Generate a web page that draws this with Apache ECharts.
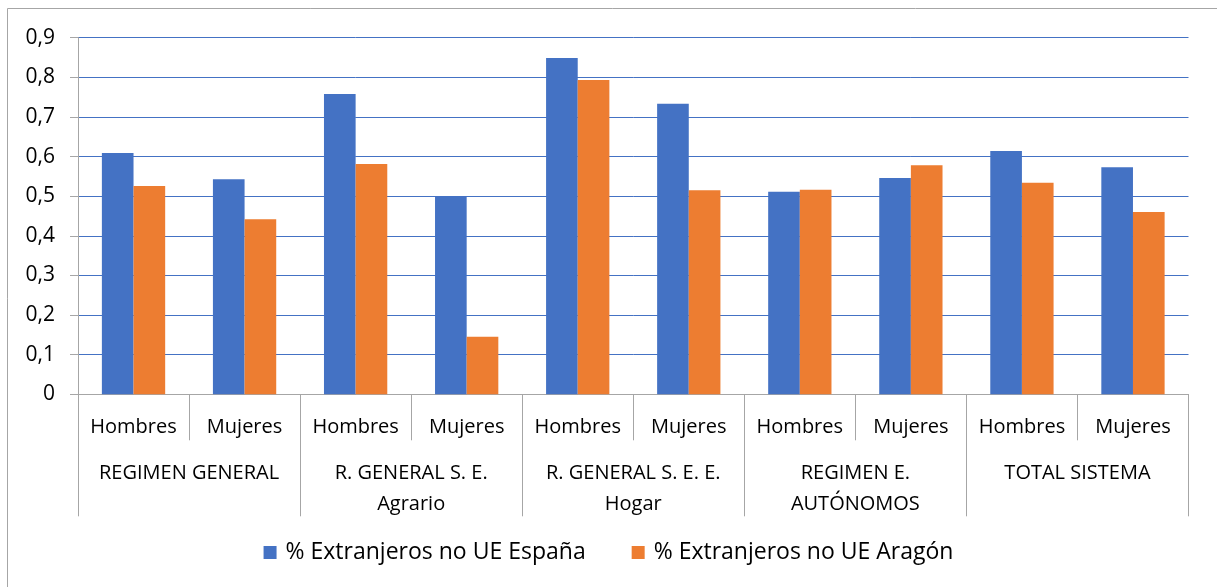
<!DOCTYPE html>
<html>
<head>
<meta charset="utf-8">
<script src="https://cdn.jsdelivr.net/npm/echarts@6/dist/echarts.min.js"></script>
<style>
  html, body { margin: 0; padding: 0; background: #fff; }
  #chart { width: 1217px; height: 587px; }
</style>
</head>
<body>
<div id="chart"></div>
<script>
// Sub-categories (sex) and their regime groups
const subCategories = ['Hombres', 'Mujeres', 'Hombres', 'Mujeres', 'Hombres', 'Mujeres', 'Hombres', 'Mujeres', 'Hombres', 'Mujeres'];
const groups = ['REGIMEN GENERAL', 'R. GENERAL S. E.\nAgrario', 'R. GENERAL S. E. E.\nHogar', 'REGIMEN E.\nAUTÓNOMOS', 'TOTAL SISTEMA'];

// Share of non-EU foreigners
const seriesNames = ['% Extranjeros no UE España', '% Extranjeros no UE Aragón'];
const espana = [0.609, 0.543, 0.758, 0.500, 0.849, 0.733, 0.511, 0.546, 0.614, 0.573];
const aragon = [0.526, 0.442, 0.581, 0.145, 0.793, 0.515, 0.516, 0.578, 0.534, 0.460];

const FONT = '"Open Sans", "Noto Sans", sans-serif';
const GREY = '#a6a6a6';
const BLUE = '#4472c4';
const ORANGE = '#ed7d31';

const chart = echarts.init(document.getElementById('chart'), null, { renderer: 'canvas' });

chart.setOption({
  animation: false,
  backgroundColor: '#ffffff',
  textStyle: { fontFamily: FONT, color: '#000' },
  graphic: [{
    type: 'rect',
    shape: { x: 7.5, y: 8.5, width: 1400, height: 800 },
    style: { fill: 'none', stroke: GREY, lineWidth: 1 },
    silent: true,
    z: -1
  }],
  grid: { left: 78, right: 28.5, top: 37.7, bottom: 192.7 },
  legend: {
    bottom: 18,
    left: 'center',
    icon: 'rect',
    itemWidth: 13,
    itemHeight: 13,
    itemGap: 46,
    textStyle: { fontFamily: FONT, fontSize: 23, color: '#000', padding: [0, 0, 0, 4] },
    data: seriesNames
  },
  xAxis: [
    {
      type: 'category',
      data: subCategories,
      position: 'bottom',
      axisLine: { show: true, lineStyle: { color: GREY, width: 1 } },
      axisTick: { show: true, interval: 0, length: 46, lineStyle: { color: GREY, width: 1 } },
      axisLabel: { interval: 0, margin: 23, fontFamily: FONT, fontSize: 20, color: '#000' }
    },
    {
      type: 'category',
      data: groups,
      position: 'bottom',
      axisLine: { show: false },
      axisTick: { show: true, interval: 0, length: 122, lineStyle: { color: GREY, width: 1 } },
      axisLabel: { interval: 0, margin: 63, fontFamily: FONT, fontSize: 20, lineHeight: 31, color: '#000' }
    }
  ],
  yAxis: {
    type: 'value',
    min: 0,
    max: 0.9,
    interval: 0.1,
    axisLine: { show: true, lineStyle: { color: GREY, width: 1 } },
    axisTick: { show: true, length: 8, lineStyle: { color: GREY, width: 1 } },
    axisLabel: {
      margin: 23,
      fontFamily: FONT,
      fontSize: 21,
      color: '#000',
      formatter: v => (v === 0 ? '0' : v.toFixed(1).replace('.', ','))
    },
    splitLine: { show: true, lineStyle: { color: BLUE, width: 1 } }
  },
  series: [
    {
      name: seriesNames[0],
      type: 'bar',
      data: espana,
      xAxisIndex: 0,
      barGap: '0%',
      barCategoryGap: '43%',
      itemStyle: { color: BLUE }
    },
    {
      name: seriesNames[1],
      type: 'bar',
      data: aragon,
      xAxisIndex: 0,
      barGap: '0%',
      barCategoryGap: '43%',
      itemStyle: { color: ORANGE }
    }
  ]
});
</script>
</body>
</html>
